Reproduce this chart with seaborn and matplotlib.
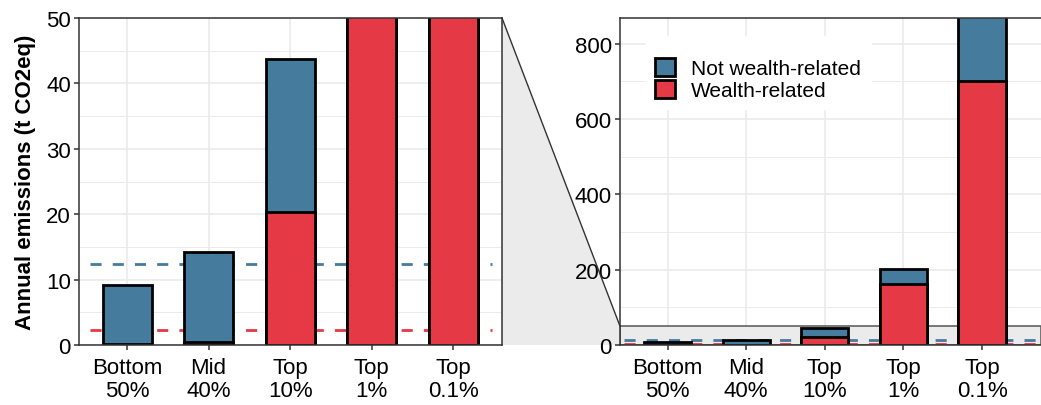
import matplotlib
matplotlib.use("Agg")
import matplotlib.pyplot as plt
from matplotlib.patches import Polygon, Patch
from matplotlib.lines import Line2D
from matplotlib.ticker import MultipleLocator
import numpy as np
import seaborn as sns

# -------- data --------
groups = ["Bottom\n50%", "Mid\n40%", "Top\n10%", "Top\n1%", "Top\n0.1%"]
wealth_related = [0.1, 0.5, 20.3, 161, 702]
not_wealth_related = [9.1, 13.7, 23.5, 42, 250]
avg_total = 12.35     # blue dashed line
avg_wealth = 2.25     # red dashed line
zoom_limit = 50

# -------- settings --------
BLUE = "#457B9D"
RED = "#E63946"
GRID = "#EBEBEB"
DARK = "#333333"

sns.set_theme(style="white")
plt.rcParams["font.family"] = ["Liberation Sans", "DejaVu Sans"]
plt.rcParams["axes.edgecolor"] = DARK
plt.rcParams["axes.linewidth"] = 1.1
plt.rcParams["text.color"] = "black"
plt.rcParams["axes.labelcolor"] = "black"

totals = list(np.array(wealth_related) + np.array(not_wealth_related))

fig = plt.figure(figsize=(10.41, 4.06), dpi=100)
ax1 = fig.add_axes([79 / 1041, 60 / 406, 423 / 1041, 327 / 406])
ax2 = fig.add_axes([620 / 1041, 60 / 406, 421 / 1041, 327 / 406])


def draw_panel(ax, xlim, ylim, major, minor, dash_x):
    ax.hlines([avg_total], dash_x[0], dash_x[1], colors=BLUE, lw=2,
              linestyles=(0, (4, 4)), zorder=2)
    ax.hlines([avg_wealth], dash_x[0], dash_x[1], colors=RED, lw=2,
              linestyles=(0, (4, 4)), zorder=2)
    sns.barplot(x=groups, y=totals, color=BLUE, saturation=1, width=0.6,
                edgecolor="black", linewidth=2, errorbar=None, ax=ax, zorder=3)
    sns.barplot(x=groups, y=wealth_related, color=RED, saturation=1, width=0.6,
                edgecolor="black", linewidth=2, errorbar=None, ax=ax, zorder=4)
    ax.set_xlim(*xlim)
    ax.set_ylim(*ylim)
    ax.yaxis.set_major_locator(MultipleLocator(major))
    ax.yaxis.set_minor_locator(MultipleLocator(minor))
    ax.set_axisbelow(True)
    ax.grid(which="major", color=GRID, lw=1.2)
    ax.grid(which="minor", axis="y", color=GRID, lw=0.7)
    ax.tick_params(axis="both", which="major", length=3.8, width=1.1, color=DARK,
                   labelsize=16, labelcolor="black", pad=2, left=True, bottom=True)
    ax.tick_params(axis="x", pad=5)
    ax.tick_params(which="minor", length=0)
    for lab in ax.get_xticklabels():
        lab.set_linespacing(1.08)
    ax.set_xlabel("")
    for s in ax.spines.values():
        s.set_zorder(6)


draw_panel(ax1, (-0.59, 4.6), (0, zoom_limit), 10, 5, (-0.45, 4.48))
ax1.set_ylabel("Annual emissions (t CO2eq)", fontsize=16, fontweight="bold",
               labelpad=7, color="black")

draw_panel(ax2, (-0.606, 4.75), (0, 868), 200, 100, (-0.55, 4.75))
ax2.spines["right"].set_visible(False)
ax2.axhspan(0, zoom_limit, facecolor=GRID, edgecolor="#555555", lw=1.1, zorder=1.5)

handles = [Patch(facecolor=BLUE, edgecolor="black", lw=2, label="Not wealth-related"),
           Patch(facecolor=RED, edgecolor="black", lw=2, label="Wealth-related")]
leg = ax2.legend(handles=handles, loc="upper left", bbox_to_anchor=(0.036, 0.976),
                 fontsize=15, frameon=True, fancybox=False, framealpha=1,
                 edgecolor="white", handlelength=0.95, handleheight=0.95,
                 handletextpad=0.8, labelspacing=0.1, borderpad=0.45,
                 title=" ", title_fontsize=8, labelcolor="black")
leg.set_zorder(7)

# -------- zoom connector between panels --------
to_fig = fig.transFigure.inverted()
p1 = to_fig.transform(ax1.transAxes.transform((1, 1)))
p2 = to_fig.transform(ax2.transData.transform((ax2.get_xlim()[0], zoom_limit)))
p3 = to_fig.transform(ax2.transAxes.transform((0, 0)))
p4 = to_fig.transform(ax1.transAxes.transform((1, 0)))
fig.add_artist(Polygon([p1, p2, p3, p4], closed=True, transform=fig.transFigure,
                       facecolor=GRID, edgecolor="none", zorder=0))
fig.add_artist(Line2D([p1[0], p2[0]], [p1[1], p2[1]], transform=fig.transFigure,
                      color=DARK, lw=1.0))

fig.savefig("out.png", dpi=100)
